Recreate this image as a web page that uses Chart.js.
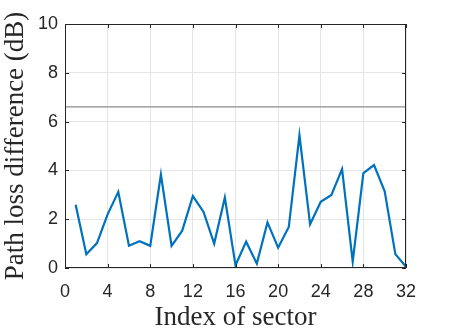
<!DOCTYPE html>
<html>
<head>
<meta charset="utf-8">
<script src="https://cdn.jsdelivr.net/npm/chart.js@4"></script>
<style>
html,body{margin:0;padding:0;background:#fff;}
#wrap{width:449px;height:336px;position:relative;}
</style>
</head>
<body>
<div id="wrap"><canvas id="c" width="449" height="336"></canvas></div>
<script>
const sectorIndex = [1,2,3,4,5,6,7,8,9,10,11,12,13,14,15,16,17,18,19,20,21,22,23,24,25,26,27,28,29,30,31,32];
const pathLossDiff = [2.59,0.56,1.02,2.2,3.12,0.91,1.1,0.91,3.83,0.91,1.53,2.95,2.3,1.0,2.89,0.11,1.08,0.18,1.87,0.83,1.68,5.44,1.79,2.71,2.99,4.05,0.26,3.89,4.22,3.14,0.57,0.05];
const thresholdX = [0,32];
const thresholdY = 6.6;
const xTicks = [0,4,8,12,16,20,24,28,32];
const yTicks = [0,2,4,6,8,10];

const axisColor = '#262626';
const boxPlugin = {
  id:'box',
  afterDatasetsDraw(chart){
    const {ctx, chartArea:a, scales:{x,y}} = chart;
    ctx.save();
    ctx.strokeStyle = axisColor;
    ctx.lineWidth = 1;
    ctx.beginPath();
    ctx.rect(a.left+0.5, a.top+0.5, a.right-a.left-1, a.bottom-a.top-1);
    ctx.stroke();
    const L = 4;
    ctx.beginPath();
    xTicks.forEach(v=>{
      const px = Math.round(x.getPixelForValue(v))+0.5;
      ctx.moveTo(px,a.bottom); ctx.lineTo(px,a.bottom-L);
      ctx.moveTo(px,a.top); ctx.lineTo(px,a.top+L);
    });
    yTicks.forEach(v=>{
      const py = Math.round(y.getPixelForValue(v))+0.5;
      ctx.moveTo(a.left,py); ctx.lineTo(a.left+L,py);
      ctx.moveTo(a.right,py); ctx.lineTo(a.right-L,py);
    });
    ctx.stroke();
    ctx.restore();
  }
};

new Chart(document.getElementById('c'), {
  type:'line',
  data:{
    datasets:[
      {
        data: sectorIndex.map((v,i)=>({x:v,y:pathLossDiff[i]})),
        borderColor:'#0072BD',
        borderWidth:2.2,
        pointRadius:0,
        tension:0,
        fill:false
      },
      {
        data: thresholdX.map(v=>({x:v,y:thresholdY})),
        borderColor:'#8c8c8c',
        borderWidth:1.2,
        pointRadius:0,
        fill:false
      }
    ]
  },
  plugins:[boxPlugin],
  options:{
    responsive:false,
    animation:false,
    devicePixelRatio:1,
    layout:{padding:{left:0,right:43,top:24,bottom:0}},
    plugins:{legend:{display:false},tooltip:{enabled:false}},
    scales:{
      x:{
        type:'linear', min:0, max:32,
        afterBuildTicks(s){ s.ticks = xTicks.map(v=>({value:v})); },
        afterFit(s){ s.height = 68; },
        grid:{color:'#e5e5e5', drawTicks:false, lineWidth:1},
        border:{display:false},
        ticks:{padding:13, color:axisColor, font:{family:'"Liberation Sans", Arial, sans-serif', size:18}, maxRotation:0},
        title:{display:true, text:'Index of sector', color:axisColor, font:{family:'"Liberation Serif", "DejaVu Serif", serif', size:27}, padding:{top:0,bottom:2}}
      },
      y:{
        type:'linear', min:0, max:10,
        afterBuildTicks(s){ s.ticks = yTicks.map(v=>({value:v})); },
        afterFit(s){ s.width = 65; },
        grid:{color:'#e5e5e5', drawTicks:false, lineWidth:1},
        border:{display:false},
        ticks:{padding:7, color:axisColor, font:{family:'"Liberation Sans", Arial, sans-serif', size:18}},
        title:{display:true, text:'Path loss difference (dB)', color:axisColor, font:{family:'"Liberation Serif", "DejaVu Serif", serif', size:27}, padding:{top:0,bottom:0}}
      }
    }
  }
});
</script>
</body>
</html>
